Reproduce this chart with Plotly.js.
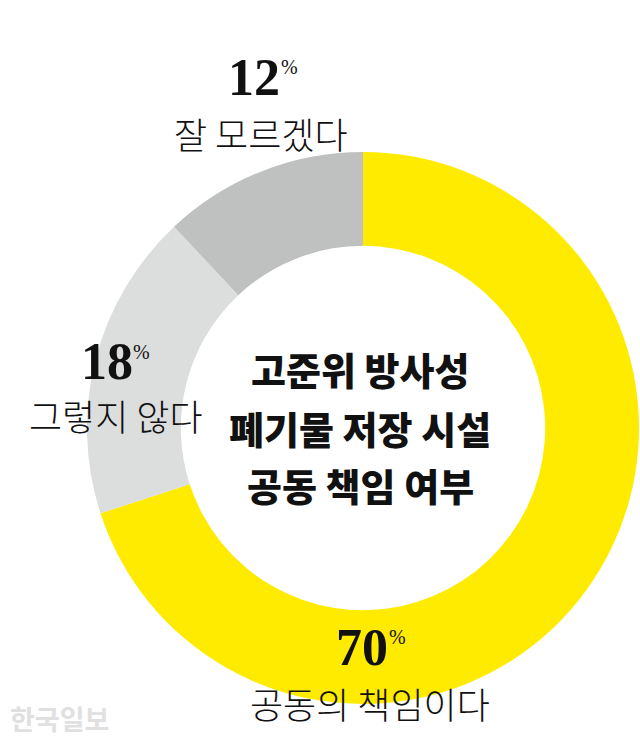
<!DOCTYPE html>
<html>
<head>
<meta charset="utf-8">
<script src="https://cdn.plot.ly/plotly-3.0.1.min.js"></script>
<style>
html,body{margin:0;padding:0;background:#fff;}
#chart{width:640px;height:745px;}
</style>
</head>
<body>
<div id="chart"></div>
<script>
// Data
var categories = ['공동의 책임이다', '그렇지 않다', '잘 모르겠다'];
var values = [70, 18, 12];
var sliceColors = ['#FFEB00', '#DCDDDD', '#BFC0C0'];
var centerTitle = ['고준위 방사성', '폐기물 저장 시설', '공동 책임 여부'];
var credit = '한국일보';

// label positions (pixels in the 640x745 canvas)
var labelPos = [
  {num: [362, 647], pctX: 388, cat: [370, 703]},
  {num: [107, 362], pctX: 132, cat: [116, 415]},
  {num: [254, 77],  pctX: 280, cat: [261, 133]}
];

var W = 640, H = 745;
function px(x){ return x / W; }
function py(y){ return 1 - y / H; }

var korFont = '"Noto Sans CJK KR", "Noto Sans", sans-serif';
var numFont = '"Liberation Serif", "DejaVu Serif", serif';

var annotations = [];
for (var i = 0; i < categories.length; i++) {
  annotations.push({
    xref: 'paper', yref: 'paper', x: px(labelPos[i].num[0]), y: py(labelPos[i].num[1]),
    xanchor: 'center', yanchor: 'middle', showarrow: false, borderpad: 0,
    text: String(values[i]),
    font: {family: numFont, size: 52, color: '#111', weight: 700}
  });
  annotations.push({
    xref: 'paper', yref: 'paper', x: px(labelPos[i].pctX), y: py(labelPos[i].num[1] - 22),
    xanchor: 'left', yanchor: 'top', showarrow: false, borderpad: 0,
    text: '%',
    font: {family: numFont, size: 20, color: '#111', weight: 400}
  });
  annotations.push({
    xref: 'paper', yref: 'paper', x: px(labelPos[i].cat[0]), y: py(labelPos[i].cat[1]),
    xanchor: 'center', yanchor: 'middle', showarrow: false,
    text: categories[i],
    font: {family: korFont, size: 36, color: '#111', weight: 300}
  });
}
var titleY = [368, 427, 484];
for (var j = 0; j < centerTitle.length; j++) {
  annotations.push({
    xref: 'paper', yref: 'paper', x: px(360), y: py(titleY[j]),
    xanchor: 'center', yanchor: 'middle', showarrow: false,
    text: centerTitle[j],
    font: {family: korFont, size: 38, color: '#111', weight: 900}
  });
}
annotations.push({
  xref: 'paper', yref: 'paper', x: px(8), y: py(718),
  xanchor: 'left', yanchor: 'middle', showarrow: false,
  text: credit,
  font: {family: korFont, size: 27, color: '#E0E0E0', weight: 700}
});

var cx = 363, cy = 428, r = 276;
var trace = {
  type: 'pie',
  values: values,
  labels: categories,
  marker: {colors: sliceColors, line: {width: 0}},
  hole: 0.66,
  sort: false,
  direction: 'clockwise',
  rotation: 0,
  textinfo: 'none',
  hoverinfo: 'none',
  showlegend: false,
  domain: {x: [px(cx - r), px(cx + r)], y: [py(cy + r), py(cy - r)]}
};

var layout = {
  width: W, height: H,
  margin: {l: 0, r: 0, t: 0, b: 0},
  paper_bgcolor: '#fff',
  showlegend: false,
  annotations: annotations
};

Plotly.newPlot('chart', [trace], layout, {displayModeBar: false, staticPlot: true});
</script>
</body>
</html>
